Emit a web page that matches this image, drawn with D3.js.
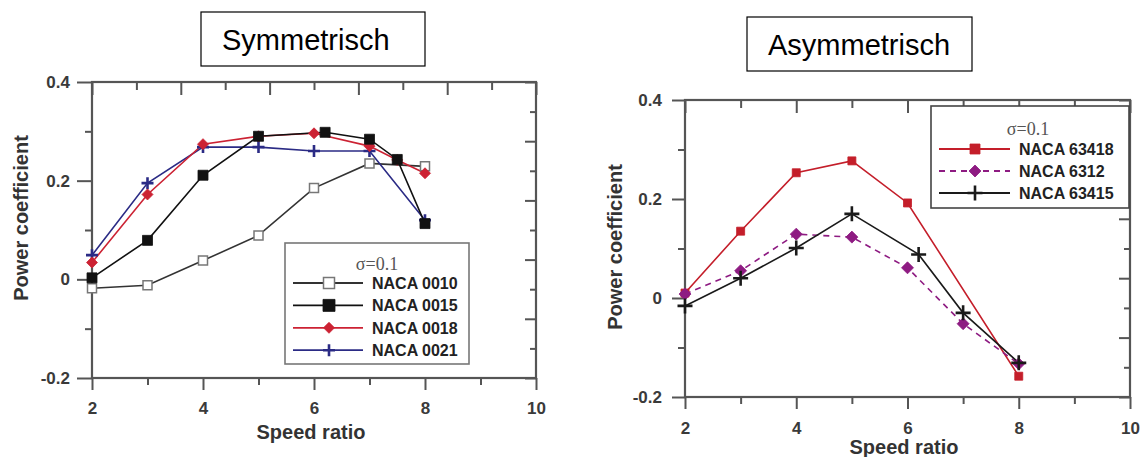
<!DOCTYPE html>
<html><head><meta charset="utf-8">
<script src="https://cdn.jsdelivr.net/npm/d3@7"></script>
<style>
html,body{margin:0;padding:0;background:#fff;}
svg{display:block;}
</style></head>
<body>
<svg id="c" width="1144" height="457" font-family="Arial, 'Liberation Sans', sans-serif"></svg>
<script>
// ---- data ----
const xTicks = [2,4,6,8,10];
const xMinor = [3,5,7,9];
const yTicks = [-0.2,0,0.2,0.4];
const yMinor = [-0.1,0.1,0.3];
const auxMajor = [0,2,4,6,8,10];
const auxMinor = [1,3,5,7,9];

const symTitle = "Symmetrisch";
const asymTitle = "Asymmetrisch";
const xLabel = "Speed ratio";
const yLabel = "Power coefficient";
const sigmaLabel = "σ=0.1";

const sym0010X = [2,3,4,5,6,7,8];
const sym0010Y = [-0.018,-0.012,0.038,0.089,0.185,0.235,0.229];
const sym0015X = [2,3,4,5,6.2,7,7.5,8];
const sym0015Y = [0.003,0.079,0.211,0.29,0.298,0.284,0.243,0.113];
const sym0018X = [2,3,4,5,6,7,7.5,8];
const sym0018Y = [0.034,0.172,0.274,0.29,0.296,0.27,0.242,0.215];
const sym0021X = [2,3,4,5,6,7,8];
const sym0021Y = [0.049,0.195,0.268,0.268,0.26,0.26,0.12];

const asy63418X = [2,3,4,5,6,8];
const asy63418Y = [0.01,0.135,0.253,0.277,0.192,-0.158];
const asy6312X = [2,3,4,5,6,7,8];
const asy6312Y = [0.008,0.055,0.129,0.123,0.061,-0.052,-0.133];
const asy63415X = [2,3,4,5,6.2,7,8];
const asy63415Y = [-0.016,0.04,0.101,0.17,0.088,-0.03,-0.131];

const symSeries = [
  {name:"NACA 0010", xs:sym0010X, ys:sym0010Y, color:"#333", marker:"openSquare", size:9, dash:null},
  {name:"NACA 0021", xs:sym0021X, ys:sym0021Y, color:"#2b2b85", marker:"plus", size:6, dash:null},
  {name:"NACA 0018", xs:sym0018X, ys:sym0018Y, color:"#cc2233", marker:"diamond", size:5.5, dash:null},
  {name:"NACA 0015", xs:sym0015X, ys:sym0015Y, color:"#111", marker:"square", size:10, dash:null}
];
const symLegendOrder = ["NACA 0010","NACA 0015","NACA 0018","NACA 0021"];

const asySeries = [
  {name:"NACA 63418", xs:asy63418X, ys:asy63418Y, color:"#c41e2a", marker:"square", size:8, dash:null},
  {name:"NACA 6312", xs:asy6312X, ys:asy6312Y, color:"#8e1b82", marker:"diamond", size:6, dash:"6,5"},
  {name:"NACA 63415", xs:asy63415X, ys:asy63415Y, color:"#1a1a1a", marker:"plus", size:7.5, dash:null}
];
const asyLegendOrder = ["NACA 63418","NACA 6312","NACA 63415"];

// ---- drawing ----
const svg = d3.select("#c");
const AX = "#555";
const SANS = "Arial, 'Liberation Sans', sans-serif";

function markerPath(type, s){
  if(type==="square"||type==="openSquare") return `M${-s/2},${-s/2}H${s/2}V${s/2}H${-s/2}Z`;
  if(type==="diamond") return `M0,${-s}L${s},0L0,${s}L${-s},0Z`;
  if(type==="plus") return `M${-s},0H${s}M0,${-s}V${s}`;
}
function drawMarker(g, type, s, color, cx, cy){
  const p = g.append("path").attr("d", markerPath(type,s)).attr("transform",`translate(${cx},${cy})`);
  if(type==="openSquare") p.attr("fill","#fff").attr("stroke","#777").attr("stroke-width",1.5);
  else if(type==="plus") p.attr("fill","none").attr("stroke",color).attr("stroke-width",2.6);
  else p.attr("fill",color).attr("stroke",color).attr("stroke-width",0.8);
}

function panel(cfg){
  const g = svg.append("g");
  const x = d3.scaleLinear([2,10],[cfg.x0,cfg.x1]);
  const y = d3.scaleLinear([-0.2,0.4],[cfg.y1,cfg.y0]);
  const xTop = cfg.topAux ? d3.scaleLinear([0,10],[cfg.x0,cfg.x1]) : x;
  const yRight = d3.scaleLinear([0,10],[cfg.y1,cfg.y0]);

  function styleAxis(sel){
    sel.attr("font-family",SANS).attr("font-size",17);
    sel.select(".domain").remove();
    sel.selectAll(".tick line").attr("stroke",AX).attr("stroke-width",2);
    sel.selectAll(".tick text").attr("fill","#3a3a3a").attr("font-size",17).attr("font-weight","bold");
  }
  // bottom
  g.append("g").attr("transform",`translate(0,${cfg.y1})`)
    .call(d3.axisBottom(x).tickValues(xTicks).tickSize(cfg.bTick).tickPadding(cfg.bPad).tickFormat(d3.format("d"))).call(styleAxis);
  g.append("g").attr("transform",`translate(0,${cfg.y1})`)
    .call(d3.axisBottom(x).tickValues(xMinor).tickSize(7).tickFormat("")).call(styleAxis);
  // left
  g.append("g").attr("transform",`translate(${cfg.x0},0)`)
    .call(d3.axisLeft(y).tickValues(yTicks).tickSize(cfg.lTick).tickPadding(cfg.lPad).tickFormat(d=> d===0?"0":d.toFixed(1))).call(styleAxis);
  g.append("g").attr("transform",`translate(${cfg.x0},0)`)
    .call(d3.axisLeft(y).tickValues(yMinor).tickSize(7).tickFormat("")).call(styleAxis);
  // top (inward)
  const topMaj = cfg.topAux ? auxMajor : xTicks, topMin = cfg.topAux ? auxMinor : xMinor;
  g.append("g").attr("transform",`translate(0,${cfg.y0})`)
    .call(d3.axisTop(xTop).tickValues(topMaj).tickSize(-13).tickFormat("")).call(styleAxis);
  g.append("g").attr("transform",`translate(0,${cfg.y0})`)
    .call(d3.axisTop(xTop).tickValues(topMin).tickSize(-8).tickFormat("")).call(styleAxis);
  // right (inward)
  g.append("g").attr("transform",`translate(${cfg.x1},0)`)
    .call(d3.axisRight(yRight).tickValues(auxMajor).tickSize(-11).tickFormat("")).call(styleAxis);
  g.append("g").attr("transform",`translate(${cfg.x1},0)`)
    .call(d3.axisRight(yRight).tickValues(auxMinor).tickSize(-6).tickFormat("")).call(styleAxis);
  // frame
  g.append("rect").attr("x",cfg.x0).attr("y",cfg.y0).attr("width",cfg.x1-cfg.x0).attr("height",cfg.y1-cfg.y0)
    .attr("fill","none").attr("stroke",AX).attr("stroke-width",2.2);

  // series
  const line = d3.line().x(d=>x(d[0])).y(d=>y(d[1]));
  cfg.series.forEach(s=>{
    const pts = s.xs.map((v,i)=>[v,s.ys[i]]);
    g.append("path").attr("d",line(pts)).attr("fill","none").attr("stroke",s.color)
      .attr("stroke-width",1.6).attr("stroke-dasharray",s.dash);
  });
  cfg.series.forEach(s=>{
    s.xs.forEach((v,i)=> drawMarker(g, s.marker, s.size, s.color, x(v), y(s.ys[i])));
  });

  // legend
  const L = cfg.legend;
  g.append("rect").attr("x",L.x).attr("y",L.y).attr("width",L.w).attr("height",L.h)
    .attr("fill","#fff").attr("stroke",L.stroke).attr("stroke-width",1.6);
  g.append("text").attr("x",L.sigX).attr("y",L.sigY).attr("text-anchor","middle")
    .attr("font-family","'Liberation Serif','Times New Roman',serif").attr("font-size",18).attr("fill","#555").text(sigmaLabel);
  L.order.forEach((nm,i)=>{
    const s = cfg.series.find(d=>d.name===nm);
    const cy = L.row0 + i*L.rowH;
    g.append("line").attr("x1",L.lx0).attr("x2",L.lx1).attr("y1",cy).attr("y2",cy)
      .attr("stroke",s.color).attr("stroke-width",1.8).attr("stroke-dasharray",s.dash);
    const ms = s.marker==="square"||s.marker==="openSquare" ? s.size+2 : s.size;
    drawMarker(g, s.marker, ms, s.color, L.mx, cy);
    g.append("text").attr("x",L.tx).attr("y",cy+6).attr("font-size",16).attr("font-weight","bold").attr("fill","#222").text(nm);
  });

  // axis labels
  g.append("text").attr("x",cfg.xlX).attr("y",cfg.xlY).attr("text-anchor","middle")
    .attr("font-size",20).attr("font-weight","bold").attr("fill","#333").text(xLabel);
  g.append("text").attr("transform",`translate(${cfg.ylX},${cfg.ylY}) rotate(-90)`).attr("text-anchor","middle")
    .attr("font-size",20).attr("font-weight","bold").attr("fill","#333").text(yLabel);

  // title box
  const T = cfg.title;
  svg.append("rect").attr("x",T.x).attr("y",T.y).attr("width",T.w).attr("height",T.h)
    .attr("fill","#fff").attr("stroke","#000").attr("stroke-width",1.2);
  svg.append("text").attr("x",T.tx).attr("y",T.ty).attr("font-size",29).attr("fill","#000").text(T.text);
}

panel({
  x0:92, x1:536, y0:82, y1:378, topAux:true,
  bTick:12, bPad:12, lTick:15, lPad:7,
  series:symSeries,
  legend:{x:285,y:243,w:184,h:121,stroke:"#777",sigX:377,sigY:270,row0:283,rowH:22.4,lx0:293,lx1:363,mx:329,tx:372,order:symLegendOrder},
  xlX:311, xlY:439, ylX:28, ylY:218,
  title:{x:201,y:12,w:224,h:54,tx:222,ty:50,text:symTitle}
});
panel({
  x0:685, x1:1130, y0:100, y1:397, topAux:false,
  bTick:12, bPad:13, lTick:13, lPad:10,
  series:asySeries,
  legend:{x:931,y:106,w:198,h:102,stroke:"#444",sigX:1028,sigY:135,row0:149,rowH:22,lx0:939,lx1:1010,mx:975,tx:1019,order:asyLegendOrder},
  xlX:904, xlY:454, ylX:622, ylY:247,
  title:{x:747,y:17,w:225,h:54,tx:768,ty:55,text:asymTitle}
});
</script>
</body></html>
